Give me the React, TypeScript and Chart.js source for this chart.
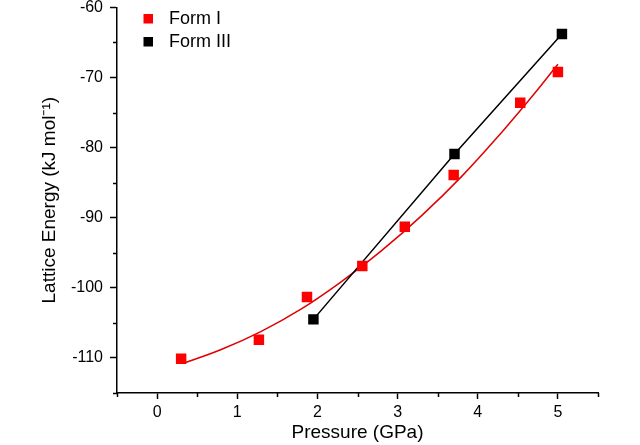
import React, { useEffect, useRef } from "react";
import { Chart, registerables } from "chart.js";

Chart.register(...registerables);

// Form I data (red squares)
const formIPressure = [0.30, 1.27, 1.87, 2.56, 3.09, 3.70, 4.53, 5.00];
const formIEnergy = [-110.1, -107.4, -101.3, -96.9, -91.3, -83.9, -73.6, -69.2];

// Form III data (black squares, joined by line)
const formIIIPressure = [1.95, 3.71, 5.05];
const formIIIEnergy = [-104.5, -80.9, -63.8];

// Form I fitted curve
const fitPressure = [0.32, 0.8, 1.3, 1.8, 2.3, 2.8, 3.3, 3.8, 4.3, 4.7, 5.0];
const fitEnergy = [-110.8, -108.8, -106.2, -103.0, -99.1, -94.7, -89.7, -84.1, -77.8, -72.4, -68.1];

// Axis ticks
const xMajorTicks = [0, 1, 2, 3, 4, 5];
const xMinorTicks = [-0.5, 0.5, 1.5, 2.5, 3.5, 4.5, 5.5];
const yMajorTicks = [-110, -100, -90, -80, -70, -60];
const yMinorTicks = [-115, -105, -95, -85, -75, -65];

const FONT = "'Liberation Sans', Arial, sans-serif";

const minorTickPlugin = {
  id: "minorTicks",
  afterDraw(chart: any) {
    const { ctx, scales, chartArea } = chart;
    ctx.save();
    ctx.strokeStyle = "#000";
    ctx.lineWidth = 1.5;
    ctx.beginPath();
    for (const v of xMinorTicks) {
      const px = Math.round(scales.x.getPixelForValue(v)) + 0.5;
      ctx.moveTo(px, chartArea.bottom);
      ctx.lineTo(px, chartArea.bottom + 4);
    }
    for (const v of yMinorTicks) {
      const py = Math.round(scales.y.getPixelForValue(v)) + 0.5;
      ctx.moveTo(chartArea.left, py);
      ctx.lineTo(chartArea.left - 4, py);
    }
    ctx.stroke();
    ctx.restore();
  },
};

const insideLegendPlugin = {
  id: "insideLegend",
  afterDraw(chart: any) {
    const { ctx } = chart;
    const items = chart.data.datasets.filter((d: any) => d.inLegend);
    ctx.save();
    ctx.font = `18px ${FONT}`;
    ctx.textBaseline = "middle";
    ctx.textAlign = "left";
    items.forEach((d: any, i: number) => {
      const cy = 18.5 + i * 23;
      ctx.fillStyle = d.backgroundColor;
      ctx.fillRect(143.5, cy - 4.5, 9.5, 9.5);
      ctx.fillStyle = "#000";
      ctx.fillText(d.label, 169, cy + 1);
    });
    ctx.restore();
  },
};

export default function App() {
  const canvasRef = useRef<HTMLCanvasElement | null>(null);

  useEffect(() => {
    if (!canvasRef.current) return;
    const toPts = (xs: number[], ys: number[]) => xs.map((x, i) => ({ x, y: ys[i] }));

    const chart = new Chart(canvasRef.current, {
      type: "scatter",
      data: {
        datasets: [
          {
            label: "Form I",
            inLegend: true,
            data: toPts(formIPressure, formIEnergy),
            backgroundColor: "#ff0000",
            borderColor: "#ff0000",
            pointStyle: "rect",
            pointRadius: 7.4,
            pointBorderWidth: 0,
            showLine: false,
            order: 0,
          } as any,
          {
            label: "Form III",
            inLegend: true,
            data: toPts(formIIIPressure, formIIIEnergy),
            backgroundColor: "#000000",
            borderColor: "#000000",
            borderWidth: 1.5,
            pointStyle: "rect",
            pointRadius: 7.4,
            pointBorderWidth: 0,
            showLine: true,
            order: 0,
          } as any,
          {
            label: "Form I fit",
            inLegend: false,
            data: toPts(fitPressure, fitEnergy),
            borderColor: "#e00000",
            backgroundColor: "#e00000",
            borderWidth: 1.5,
            pointRadius: 0,
            showLine: true,
            tension: 0.4,
            order: 1,
          } as any,
        ],
      },
      options: {
        responsive: false,
        animation: false,
        layout: { padding: { left: 0, top: 7, right: 42, bottom: 0 } },
        plugins: {
          legend: { display: false },
          tooltip: { enabled: false },
        },
        scales: {
          x: {
            type: "linear",
            min: -0.5,
            max: 5.5,
            afterBuildTicks: (scale: any) => {
              scale.ticks = xMajorTicks.map((v) => ({ value: v }));
            },
            afterFit: (scale: any) => {
              scale.height = 52;
              scale.paddingLeft = 0;
              scale.paddingRight = 0;
            },
            ticks: {
              color: "#000",
              font: { family: FONT, size: 16 },
              padding: 4,
              maxRotation: 0,
              callback: (v: any) => String(v),
            },
            grid: {
              drawOnChartArea: false,
              drawTicks: true,
              tickLength: 6,
              tickColor: "#000",
              tickWidth: 1.5,
            },
            border: { display: true, color: "#000", width: 1.5 },
            title: {
              display: true,
              text: "Pressure (GPa)",
              color: "#000",
              font: { family: FONT, size: 19 },
              padding: { top: 0, bottom: 1 },
            },
          },
          y: {
            type: "linear",
            min: -115,
            max: -60,
            afterBuildTicks: (scale: any) => {
              scale.ticks = yMajorTicks.map((v) => ({ value: v }));
            },
            afterFit: (scale: any) => {
              scale.width = 117;
              scale.paddingTop = 0;
              scale.paddingBottom = 0;
            },
            ticks: {
              color: "#000",
              font: { family: FONT, size: 16 },
              padding: 7,
              callback: (v: any) => String(v),
            },
            grid: {
              drawOnChartArea: false,
              drawTicks: true,
              tickLength: 7,
              tickColor: "#000",
              tickWidth: 1.5,
            },
            border: { display: true, color: "#000", width: 1.5 },
            title: {
              display: true,
              text: "Lattice Energy (kJ mol\u207B\u00B9)",
              color: "#000",
              font: { family: FONT, size: 19 },
              padding: { top: 38, bottom: 0 },
            },
          },
        },
      },
      plugins: [minorTickPlugin, insideLegendPlugin],
    } as any);

    return () => chart.destroy();
  }, []);

  return (
    <div style={{ position: "fixed", left: 0, top: 0, width: 640, height: 445, background: "#fff" }}>
      <canvas ref={canvasRef} width={640} height={445} style={{ display: "block" }} />
    </div>
  );
}
